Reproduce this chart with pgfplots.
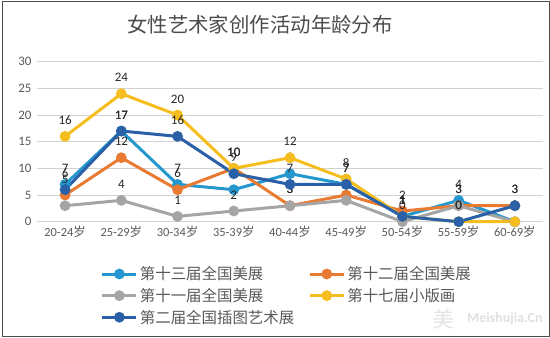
\documentclass[border=0pt]{standalone}
\usepackage{fontspec}
\setmainfont{Carlito}
\newfontfamily\cjk{Noto Sans CJK SC}
\usepackage{pgfplots}
\pgfplotsset{compat=1.18}
\definecolor{lb}{HTML}{2597CF}
\definecolor{org}{HTML}{E97A32}
\definecolor{gr}{HTML}{A5A5A5}
\definecolor{ye}{HTML}{F5BE1E}
\definecolor{db}{HTML}{2960A8}
\definecolor{txt}{HTML}{595959}
\begin{document}
\begin{tikzpicture}[x=1bp,y=1bp]
\path[use as bounding box] (0,0) rectangle (550,337);
\draw[black!70, line width=1bp] (2,0.5) rectangle (549.5,335);
\node[font=\cjk\fontsize{20.5}{24}\selectfont, text=black!70] at (260,312) {女性艺术家创作活动年龄分布};
\node[font=\bfseries\fontsize{14}{14}\selectfont, text=gray!25, anchor=east] at (546,18) {Meishujia.Cn};
\node[font=\cjk\fontsize{22}{22}\selectfont, text=gray!20] at (443,18) {美};
\begin{axis}[
  at={(37bp,115.3bp)}, anchor=south west,
  scale only axis, width=506bp, height=160bp,
  xmin=-0.5, xmax=8.5, ymin=0, ymax=30,
  ytick={0,5,...,30},
  xtick={0,...,8},
  xticklabels={20-24{\cjk 岁},25-29{\cjk 岁},30-34{\cjk 岁},35-39{\cjk 岁},40-44{\cjk 岁},45-49{\cjk 岁},50-54{\cjk 岁},55-59{\cjk 岁},60-69{\cjk 岁}},
  /pgf/number format/assume math mode=true,
  ymajorgrids, grid style={draw=black!18, line width=0.8bp},
  axis line style={draw=none},
  major tick length=0pt,
  tick label style={text=txt},
  yticklabel style={font=\fontsize{13}{13}\selectfont, xshift=-2bp},
  xticklabel style={font=\fontsize{12.5}{13}\selectfont, yshift=-1bp},
  clip=false,
  every axis plot/.append style={line width=3bp, mark=*, mark size=3.8bp, mark options={solid}},
  nodes near coords,
  nodes near coords style={font=\fontsize{13}{13}\selectfont, text=black!85, anchor=south, yshift=7bp},
  legend columns=2,
  legend cell align=left,
  legend style={draw=none, fill=none, at={(0.12,-0.255)}, anchor=north west,
    font=\cjk\fontsize{15.5}{15.5}\selectfont, text=txt,
    /tikz/every even column/.append style={column sep=12bp},
    row sep=3bp},
  legend image code/.code={\draw[mark repeat=2,mark phase=2,#1] plot coordinates {(0bp,0bp) (17bp,0bp) (34bp,0bp)};},
]
\addplot[color=lb] coordinates {(0,7) (1,17) (2,7) (3,6) (4,9) (5,7) (6,1) (7,4) (8,0)};
\addlegendentry{第十三届全国美展}
\addplot[color=org] coordinates {(0,5) (1,12) (2,6) (3,10) (4,3) (5,5) (6,2) (7,3) (8,3)};
\addlegendentry{第十二届全国美展}
\addplot[color=gr] coordinates {(0,3) (1,4) (2,1) (3,2) (4,3) (5,4) (6,0) (7,3) (8,0)};
\addlegendentry{第十一届全国美展}
\addplot[color=ye] coordinates {(0,16) (1,24) (2,20) (3,10) (4,12) (5,8) (6,1) (7,0) (8,0)};
\addlegendentry{第十七届小版画}
\addplot[color=db] coordinates {(0,6) (1,17) (2,16) (3,9) (4,7) (5,7) (6,1) (7,0) (8,3)};
\addlegendentry{第二届全国插图艺术展}
\end{axis}
\end{tikzpicture}
\end{document}
